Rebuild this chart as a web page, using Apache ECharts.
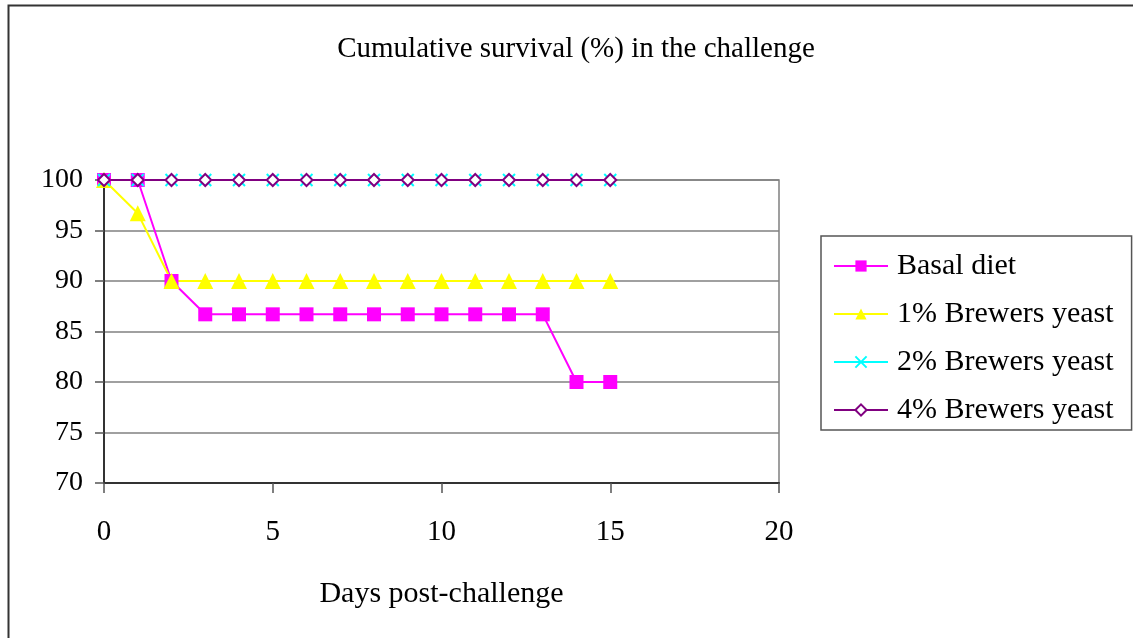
<!DOCTYPE html>
<html>
<head>
<meta charset="utf-8">
<script src="https://cdn.jsdelivr.net/npm/echarts@6/dist/echarts.min.js"></script>
<style>
html,body{margin:0;padding:0;background:#fff;}
#chart{width:1133px;height:638px;}
</style>
</head>
<body>
<div id="chart"></div>
<script>
const days = [0,1,2,3,4,5,6,7,8,9,10,11,12,13,14,15];
const basalDiet = [100,100,90,86.7,86.7,86.7,86.7,86.7,86.7,86.7,86.7,86.7,86.7,86.7,80,80];
const yeast1 = [100,96.7,90,90,90,90,90,90,90,90,90,90,90,90,90,90];
const yeast2 = [100,100,100,100,100,100,100,100,100,100,100,100,100,100,100,100];
const yeast4 = [100,100,100,100,100,100,100,100,100,100,100,100,100,100,100,100];
const seriesNames = ['Basal diet','1% Brewers yeast','2% Brewers yeast','4% Brewers yeast'];
const titleText = 'Cumulative survival (%) in the challenge';
const xName = 'Days post-challenge';

const pairs = arr => days.map((d,i)=>[d,arr[i]]);
const FONT = '"Liberation Serif", "Times New Roman", serif';
const chart = echarts.init(document.getElementById('chart'));
chart.setOption({
  animation:false,
  backgroundColor:'#fff',
  textStyle:{fontFamily:FONT},
  title:{text:titleText,left:571,top:30,textAlign:'center',
    textStyle:{fontFamily:FONT,fontWeight:'normal',fontSize:29,color:'#000'}},
  graphic:[{type:'rect',shape:{x:8.5,y:5.5,width:1140,height:700},
    style:{fill:'none',stroke:'#333',lineWidth:2},silent:true}],
  grid:{left:104,top:180,width:675,height:303,show:true,borderColor:'#808080',borderWidth:1.5,backgroundColor:'transparent'},
  legend:{orient:'vertical',left:821,top:236,
    padding:[15,18,5,12],itemGap:18,itemWidth:54,itemHeight:14,
    borderColor:'#555',borderWidth:1.5,
    textStyle:{fontFamily:FONT,fontSize:30,color:'#000',padding:[0,0,0,4]},
    data:seriesNames},
  xAxis:{type:'value',min:0,max:20,interval:5,
    name:xName,nameLocation:'middle',nameGap:96,
    nameTextStyle:{fontFamily:FONT,fontSize:30,color:'#000'},
    axisLine:{lineStyle:{color:'#333',width:2}},
    axisTick:{show:true,length:10,lineStyle:{color:'#555',width:1.5}},
    axisLabel:{margin:35,fontFamily:FONT,fontSize:29,color:'#000'},
    splitLine:{show:false}},
  yAxis:{type:'value',min:70,max:100,interval:5,
    axisLine:{show:true,lineStyle:{color:'#333',width:2}},
    axisTick:{show:true,length:9,lineStyle:{color:'#555',width:1.5}},
    axisLabel:{margin:21,fontFamily:FONT,fontSize:28,color:'#000'},
    splitLine:{show:true,lineStyle:{color:'#808080',width:1.5}}},
  series:[
    {name:seriesNames[0],type:'line',data:pairs(basalDiet),symbol:'rect',symbolSize:14,
      lineStyle:{color:'#ff00ff',width:2},itemStyle:{color:'#ff00ff'}},
    {name:seriesNames[1],type:'line',data:pairs(yeast1),symbol:'triangle',symbolSize:16,
      lineStyle:{color:'#ffff00',width:2},itemStyle:{color:'#ffff00'}},
    {name:seriesNames[2],type:'line',data:pairs(yeast2),symbol:'path://M0,0L10,10M10,0L0,10',symbolSize:12,
      lineStyle:{color:'#00ffff',width:2},itemStyle:{color:'transparent',borderColor:'#00ffff',borderWidth:2}},
    {name:seriesNames[3],type:'line',data:pairs(yeast4),symbol:'diamond',symbolSize:12,
      lineStyle:{color:'#800080',width:2},itemStyle:{color:'#fff',borderColor:'#800080',borderWidth:2}}
  ]
});
</script>
</body>
</html>
